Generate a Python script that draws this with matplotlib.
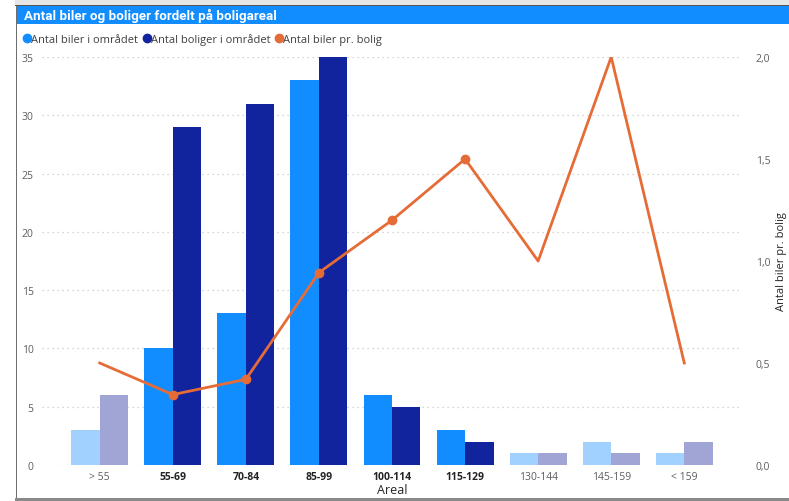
import matplotlib
matplotlib.use("Agg")
import matplotlib.pyplot as plt
from matplotlib.patches import Rectangle
from matplotlib.lines import Line2D
import numpy as np

categories = ["> 55", "55-69", "70-84", "85-99", "100-114", "115-129", "130-144", "145-159", "< 159"]
biler = [3, 10, 13, 33, 6, 3, 1, 2, 1]
boliger = [6, 29, 31, 35, 5, 2, 1, 1, 2]
biler_pr_bolig = [0.5, 0.345, 0.42, 0.943, 1.2, 1.5, 1.0, 2.0, 0.5]
highlighted = [False, True, True, True, True, True, False, False, False]

C_LIGHT = "#118DFF"
C_DARK = "#12239E"
C_LIGHT_F = "#A0D1FF"
C_DARK_F = "#A0A5D6"
C_LINE = "#E66C37"

plt.rcParams['font.family'] = ['Open Sans', 'DejaVu Sans']

W, H = 789, 502
fig = plt.figure(figsize=(W/100, H/100), dpi=100)
fig.patch.set_facecolor("white")

def px(x0, y0, w, h, **kw):
    fig.patches.append(Rectangle((x0/W, 1-(y0+h)/H), w/W, h/H, transform=fig.transFigure, **kw))

# frame decorations
px(15, 0, W-15, 7, color="#E6E6E6", lw=0)
px(15, 6, W-15, 1.2, color="#555555", lw=0)
px(16, 7, W-16, 18, color="#118DFF", lw=0)
px(15.5, 7, 1.5, 493, color="#6E6E6E", lw=0)
px(15, 499, W-15, 3, color="#8A8A8A", lw=0)

fig.text(24/W, 1-16/H, "Antal biler og boliger fordelt på boligareal", color="white",
         fontsize=9.6, fontweight="bold", va="center", ha="left", family=["Roboto", "DejaVu Sans"])

ax = fig.add_axes([42/W, 1-466/H, 700/W, 408/H])
ax2 = ax.twinx()

x = np.arange(len(categories))
bw = 0.39
for i in range(len(categories)):
    c1 = C_LIGHT if highlighted[i] else C_LIGHT_F
    c2 = C_DARK if highlighted[i] else C_DARK_F
    ax.bar(x[i]-bw/2, biler[i], width=bw, color=c1, zorder=2, linewidth=0)
    ax.bar(x[i]+bw/2, boliger[i], width=bw, color=c2, zorder=2, linewidth=0)

ax2.plot(x, biler_pr_bolig, color=C_LINE, lw=2, zorder=3)
hx = [x[i] for i in range(len(x)) if highlighted[i]]
hy = [biler_pr_bolig[i] for i in range(len(x)) if highlighted[i]]
ax2.plot(hx, hy, 'o', color=C_LINE, ms=6, zorder=4)

ax.set_xlim(-0.79, 8.79)
ax.set_ylim(0, 35)
ax2.set_ylim(0, 2)
ax.set_yticks(range(0, 36, 5))
ax2.set_yticks([0, 0.5, 1.0, 1.5, 2.0])
ax2.set_yticklabels(["0,0", "0,5", "1,0", "1,5", "2,0"])

ax.yaxis.grid(True, color="#C8C8C8", linestyle=(0, (1, 3)), lw=0.9, zorder=0)
ax.set_axisbelow(True)
for a in (ax, ax2):
    for s in a.spines.values():
        s.set_visible(False)
    a.tick_params(length=0, labelsize=7.5, colors="#605E5C")
ax.tick_params(axis='y', pad=6)
ax2.tick_params(axis='y', pad=10)

ax.set_xticks(x)
ax.set_xticklabels(categories)
for lbl, h in zip(ax.get_xticklabels(), highlighted):
    if h:
        lbl.set_fontweight("bold")
        lbl.set_color("#252423")
    else:
        lbl.set_color("#605E5C")
ax.tick_params(axis='x', pad=4)
ax.set_xlabel("Areal", fontsize=9, color="#252423", labelpad=1)
ax2.set_ylabel("Antal biler pr. bolig", fontsize=8, color="#252423", labelpad=4)

handles = [Line2D([], [], marker='o', ls='', color=C_LIGHT, ms=6),
           Line2D([], [], marker='o', ls='', color=C_DARK, ms=6),
           Line2D([], [], marker='o', ls='', color=C_LINE, ms=6)]
fig.legend(handles, ["Antal biler i området", "Antal boliger i området", "Antal biler pr. bolig"],
           loc="center left", bbox_to_anchor=(24/W, 1-40/H), ncol=3, frameon=False,
           handlelength=0.5, handletextpad=0.15, columnspacing=0.5, fontsize=8,
           labelcolor="#404040", borderaxespad=0, borderpad=0)

fig.savefig("out.png", dpi=100)
